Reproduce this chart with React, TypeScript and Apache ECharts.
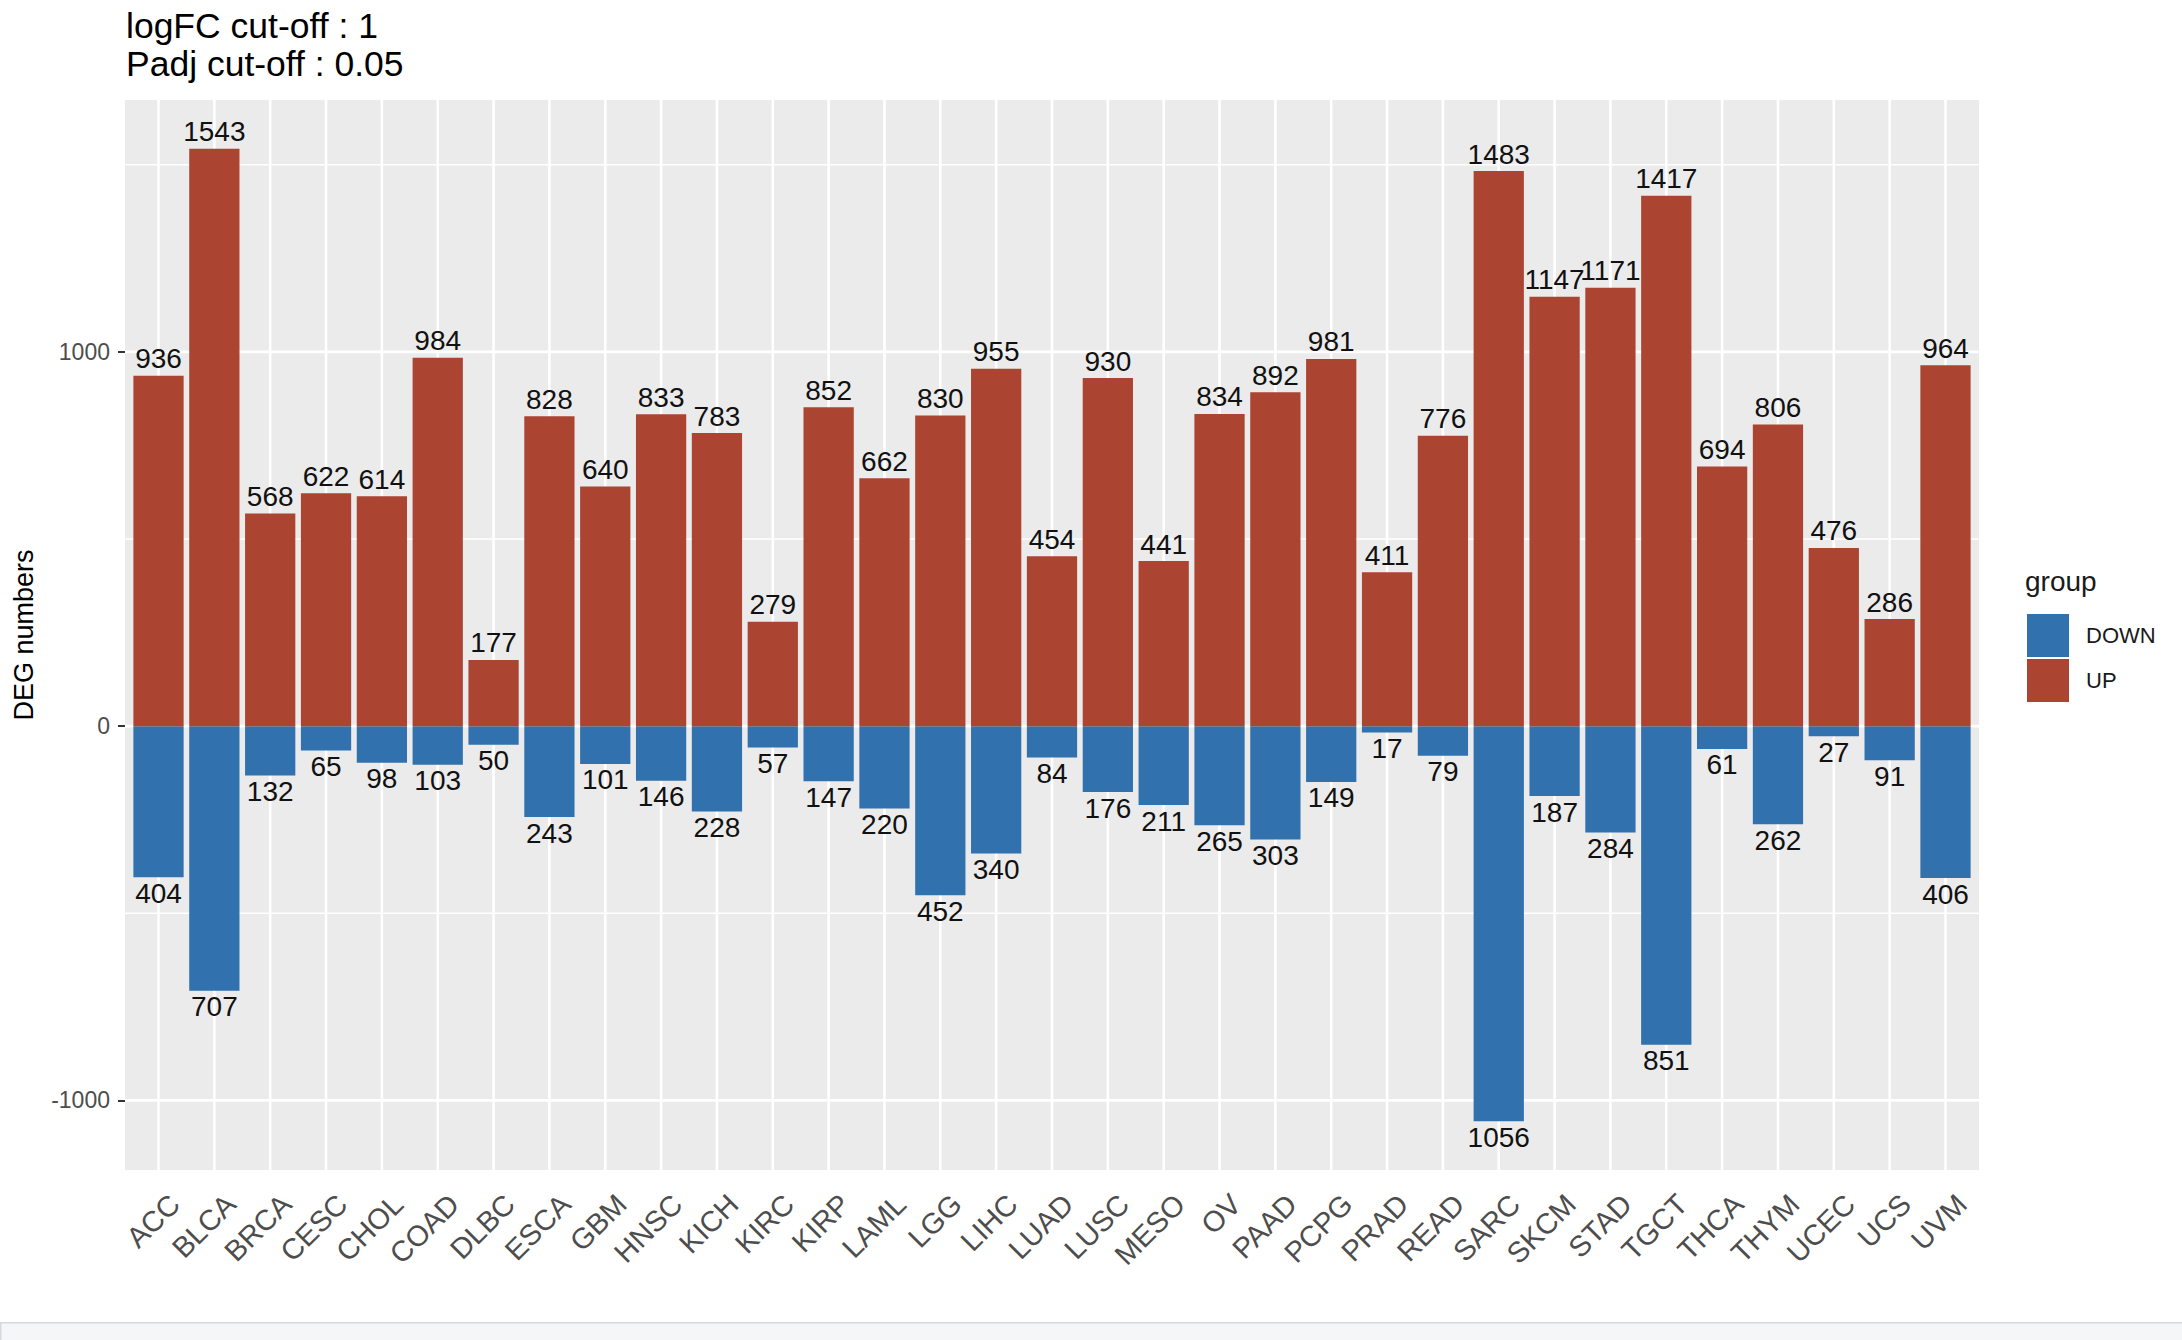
import React, { useEffect, useRef } from "react";
import * as echarts from "echarts";

const categories = [
  "ACC", "BLCA", "BRCA", "CESC", "CHOL", "COAD", "DLBC", "ESCA", "GBM", "HNSC", "KICH",
  "KIRC", "KIRP", "LAML", "LGG", "LIHC", "LUAD", "LUSC", "MESO", "OV", "PAAD", "PCPG",
  "PRAD", "READ", "SARC", "SKCM", "STAD", "TGCT", "THCA", "THYM", "UCEC", "UCS", "UVM",
];
const upCounts = [
  936, 1543, 568, 622, 614, 984, 177, 828, 640, 833, 783,
  279, 852, 662, 830, 955, 454, 930, 441, 834, 892, 981,
  411, 776, 1483, 1147, 1171, 1417, 694, 806, 476, 286, 964,
];
const downCounts = [
  404, 707, 132, 65, 98, 103, 50, 243, 101, 146, 228,
  57, 147, 220, 452, 340, 84, 176, 211, 265, 303, 149,
  17, 79, 1056, 187, 284, 851, 61, 262, 27, 91, 406,
];
const majorBreaks = [-1000, 0, 1000];
const minorBreaks = [-500, 500, 1500];
const titleLines = ["logFC cut-off : 1", "Padj cut-off : 0.05"];
const groups = ["DOWN", "UP"];
const yAxisTitle = "DEG numbers";
const legendTitle = "group";

const COLORS: Record<string, string> = { UP: "#AB4431", DOWN: "#3171AE" };
const FONT = "Liberation Sans";

export default function App() {
  const ref = useRef<HTMLDivElement>(null);
  useEffect(() => {
    const chart = echarts.init(ref.current!, null, { renderer: "svg" });
    const W = 2182;
    const H = 1340;
    const panelLeft = 125;
    const panelRight = 1979;
    const panelTop = 100;
    const panelBottom = 1170;
    const n = categories.length;
    const band = (panelRight - panelLeft) / (n - 1 + 1.2);
    const ext = band * 0.1;

    const downNeg = downCounts.map((v) => -v);
    const lo = Math.min(...downNeg);
    const hi = Math.max(...upCounts);
    const pad = (hi - lo) * 0.05;
    const yMin = lo - pad;
    const yMax = hi + pad;

    chart.setOption({
      animation: false,
      textStyle: { fontFamily: FONT },
      title: {
        text: titleLines.join("\n"),
        left: 126,
        top: 7,
        padding: 0,
        textStyle: { fontFamily: FONT, fontSize: 35.5, lineHeight: 38, fontWeight: "normal", color: "#000" },
      },
      grid: {
        left: panelLeft + ext,
        right: W - (panelRight - ext),
        top: panelTop,
        bottom: H - panelBottom,
        containLabel: false,
        outerBoundsMode: "none",
      },
      legend: {
        data: groups,
        orient: "vertical",
        left: 2027,
        top: 614,
        itemWidth: 42,
        itemHeight: 43,
        itemGap: 2,
        icon: "rect",
        padding: 0,
        textStyle: { fontFamily: FONT, fontSize: 22, color: "#1a1a1a", padding: [0, 0, 0, 12] },
        selectedMode: false,
      },
      xAxis: {
        type: "category",
        data: categories,
        boundaryGap: true,
        axisLine: { show: false },
        axisTick: { show: true, alignWithLabel: true, length: 7, lineStyle: { color: "#333", width: 2 } },
        splitLine: { show: false },
        axisLabel: {
          rotate: 45,
          interval: 0,
          align: "right",
          verticalAlign: "top",
          lineHeight: 46,
          margin: 13,
          fontSize: 29,
          color: "#4d4d4d",
          fontFamily: FONT,
        },
      },
      yAxis: {
        type: "value",
        min: yMin,
        max: yMax,
        offset: ext,
        splitLine: { show: false },
        axisLine: { show: false },
        axisTick: { show: true, length: 7, customValues: majorBreaks, lineStyle: { color: "#333", width: 2 } },
        axisLabel: {
          customValues: majorBreaks,
          margin: 15,
          fontSize: 23,
          color: "#4d4d4d",
          fontFamily: FONT,
          formatter: (v: number) => String(Math.round(v)),
        },
        name: yAxisTitle,
        nameLocation: "middle",
        nameRotate: 90,
        nameGap: 88,
        nameTextStyle: { fontFamily: FONT, fontSize: 27, color: "#000" },
      },
      graphic: [
        {
          type: "text",
          left: 2025,
          top: 567,
          style: { text: legendTitle, fontFamily: FONT, fontSize: 28, fill: "#1a1a1a" },
        },
        {
          type: "rect",
          left: 0,
          top: 1322,
          shape: { width: W, height: 18 },
          style: { fill: "#f5f6f8", stroke: "#d6d9dc", lineWidth: 1.5 },
        },
      ],
      series: [
        {
          type: "custom",
          z: 1,
          silent: true,
          clip: false,
          data: [[0, 0]],
          renderItem: (params: any, api: any) => {
            const cs = params.coordSys;
            const x0 = cs.x - ext;
            const x1 = cs.x + cs.width + ext;
            const children: any[] = [
              { type: "rect", shape: { x: x0, y: cs.y, width: x1 - x0, height: cs.height }, style: { fill: "#EBEBEB" } },
            ];
            minorBreaks.forEach((v) => {
              const y = api.coord([0, v])[1];
              children.push({ type: "line", shape: { x1: x0, y1: y, x2: x1, y2: y }, style: { stroke: "#fff", lineWidth: 1.3 } });
            });
            majorBreaks.forEach((v) => {
              const y = api.coord([0, v])[1];
              children.push({ type: "line", shape: { x1: x0, y1: y, x2: x1, y2: y }, style: { stroke: "#fff", lineWidth: 2.6 } });
            });
            categories.forEach((_, i) => {
              const x = api.coord([i, 0])[0];
              children.push({ type: "line", shape: { x1: x, y1: cs.y, x2: x, y2: cs.y + cs.height }, style: { stroke: "#fff", lineWidth: 2.6 } });
            });
            return { type: "group", children };
          },
        },
        {
          name: "DOWN",
          type: "bar",
          z: 2,
          data: downNeg,
          barWidth: "90%",
          barGap: "-100%",
          itemStyle: { color: COLORS.DOWN },
          label: {
            show: true,
            position: "outside",
            distance: 2,
            fontSize: 28,
            color: "#111",
            fontFamily: FONT,
            formatter: (p: any) => String(Math.abs(p.value)),
          },
        },
        {
          name: "UP",
          type: "bar",
          z: 2,
          data: upCounts,
          barWidth: "90%",
          barGap: "-100%",
          itemStyle: { color: COLORS.UP },
          label: {
            show: true,
            position: "outside",
            distance: 3,
            fontSize: 28,
            color: "#111",
            fontFamily: FONT,
          },
        },
      ],
    });
    return () => chart.dispose();
  }, []);
  return (
    <div
      ref={ref}
      style={{ position: "fixed", left: 0, top: 0, width: 2182, height: 1340, background: "#fff" }}
    />
  );
}
